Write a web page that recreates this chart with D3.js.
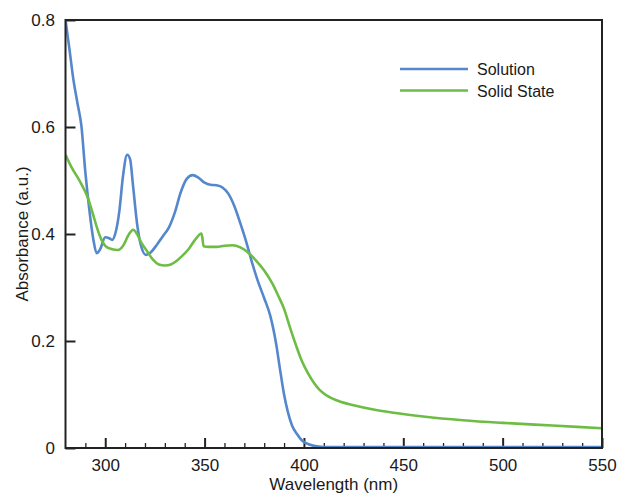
<!DOCTYPE html>
<html>
<head>
<meta charset="utf-8">
<script src="https://cdn.jsdelivr.net/npm/d3@7"></script>
<style>
  body { margin: 0; background: #fff; }
  text { font-family: "Liberation Sans", Arial, Helvetica, sans-serif; fill: #1a1a1a; }
</style>
</head>
<body>
<svg id="chart" width="622" height="496"></svg>
<script>
// solution spectrum (nm, absorbance)
var solutionNm = [280, 282, 284, 286, 288, 290, 292, 294, 295.7, 297.5, 300, 302, 303.5, 305, 307, 309, 311, 312.5, 314, 316, 318, 320.5, 323, 326, 329, 332, 335, 338, 341, 344, 347, 350, 353, 356, 359, 362, 365, 368, 371, 374, 377, 380, 383, 386, 388, 390, 392, 394, 396.5, 399, 401, 405, 410, 450, 500, 550]
var solutionAbs = [0.800, 0.745, 0.688, 0.645, 0.602, 0.515, 0.445, 0.390, 0.364, 0.372, 0.394, 0.392, 0.389, 0.400, 0.440, 0.510, 0.548, 0.540, 0.490, 0.420, 0.378, 0.361, 0.366, 0.380, 0.396, 0.412, 0.440, 0.478, 0.503, 0.510, 0.505, 0.496, 0.492, 0.491, 0.487, 0.475, 0.452, 0.420, 0.385, 0.345, 0.310, 0.280, 0.248, 0.195, 0.146, 0.100, 0.066, 0.042, 0.026, 0.014, 0.009, 0.004, 0.002, 0.002, 0.002, 0.002]

// solid state spectrum
var solidNm = [280, 283, 287, 291, 294, 296, 298, 300, 303, 306.5, 309, 312, 314, 316, 318, 321, 324, 327, 330, 333, 336, 339, 342, 345, 348.5, 349.5, 352, 356, 360, 364, 368, 372, 376, 380, 384, 387, 390, 393, 396, 399, 402, 405, 408, 412, 418, 425, 435, 445, 460, 480, 500, 525, 550]
var solidAbs = [0.548, 0.525, 0.500, 0.470, 0.435, 0.410, 0.390, 0.378, 0.372, 0.370, 0.378, 0.400, 0.408, 0.400, 0.385, 0.368, 0.352, 0.343, 0.341, 0.343, 0.350, 0.360, 0.372, 0.388, 0.401, 0.377, 0.376, 0.376, 0.378, 0.379, 0.375, 0.365, 0.350, 0.332, 0.308, 0.285, 0.260, 0.225, 0.192, 0.162, 0.140, 0.122, 0.108, 0.097, 0.087, 0.080, 0.072, 0.066, 0.059, 0.052, 0.047, 0.042, 0.037]

var seriesNames = ['Solution', 'Solid State']
var seriesColors = ['#5487cc', '#6dbd45']
var xMajor = [300, 350, 400, 450, 500, 550]
var xMinor = d3.range(290, 550, 10).filter(function (v) { return v % 50 !== 0 })
var yMajor = [0, 0.2, 0.4, 0.6, 0.8]

var svg = d3.select('#chart')
var plotL = 65.5, plotR = 602, plotT = 20, plotB = 448

var x = d3.scaleLinear().domain([280, 550]).range([plotL, plotR])
var y = d3.scaleLinear().domain([0, 0.8]).range([plotB, plotT])

svg.append('defs').append('clipPath').attr('id', 'plotclip')
  .append('rect')
  .attr('x', plotL).attr('y', plotT)
  .attr('width', plotR - plotL).attr('height', plotB - plotT)

// minor x ticks
svg.append('g')
  .attr('transform', 'translate(0,' + plotB + ')')
  .call(d3.axisBottom(x).tickValues(xMinor).tickSize(-5).tickFormat(''))
  .call(function (g) {
    g.select('.domain').remove()
    g.selectAll('line').attr('stroke', '#222').attr('stroke-width', 1.3)
  })

// major x ticks
svg.append('g')
  .attr('transform', 'translate(0,' + plotB + ')')
  .call(d3.axisBottom(x).tickValues(xMajor).tickSize(-10).tickPadding(11).tickFormat(d3.format('d')))
  .call(function (g) {
    g.select('.domain').remove()
    g.selectAll('line').attr('stroke', '#222').attr('stroke-width', 2)
    g.selectAll('text').attr('font-size', '17px').attr('font-family', null).attr('fill', null)
  })

// y ticks
svg.append('g')
  .attr('transform', 'translate(' + plotL + ',0)')
  .call(d3.axisLeft(y).tickValues(yMajor).tickSize(-10).tickPadding(10.5)
    .tickFormat(function (d) { return d === 0 ? '0' : d3.format('.1f')(d) }))
  .call(function (g) {
    g.select('.domain').remove()
    g.selectAll('line').attr('stroke', '#222').attr('stroke-width', 2)
    g.selectAll('text').attr('font-size', '17px').attr('font-family', null).attr('fill', null)
  })

var line = d3.line()
  .x(function (d) { return x(d[0]) })
  .y(function (d) { return y(d[1]) })
  .curve(d3.curveMonotoneX)

var series = [
  d3.zip(solutionNm, solutionAbs),
  d3.zip(solidNm, solidAbs)
]

svg.append('g').attr('clip-path', 'url(#plotclip)')
  .selectAll('path')
  .data(series)
  .enter().append('path')
  .attr('d', line)
  .attr('fill', 'none')
  .attr('stroke', function (d, i) { return seriesColors[i] })
  .attr('stroke-width', 2.6)
  .attr('stroke-linejoin', 'round')

// frame
svg.append('rect')
  .attr('x', plotL).attr('y', plotT)
  .attr('width', plotR - plotL).attr('height', plotB - plotT)
  .attr('fill', 'none')
  .attr('stroke', '#222')
  .attr('stroke-width', 2)

// legend
var legend = svg.append('g').selectAll('g')
  .data(seriesNames)
  .enter().append('g')
  .attr('transform', function (d, i) { return 'translate(0,' + (69 + i * 21.5) + ')' })

legend.append('line')
  .attr('x1', 400).attr('x2', 468)
  .attr('stroke', function (d, i) { return seriesColors[i] })
  .attr('stroke-width', 2.6)

legend.append('text')
  .attr('x', 477).attr('y', 6)
  .attr('font-size', '16px')
  .text(function (d) { return d })

// axis titles
svg.append('text')
  .attr('x', (plotL + plotR) / 2).attr('y', 490)
  .attr('text-anchor', 'middle')
  .attr('font-size', '17px')
  .text('Wavelength (nm)')

svg.append('text')
  .attr('transform', 'translate(28,234) rotate(-90)')
  .attr('text-anchor', 'middle')
  .attr('font-size', '17px')
  .text('Absorbance (a.u.)')
</script>
</body>
</html>
